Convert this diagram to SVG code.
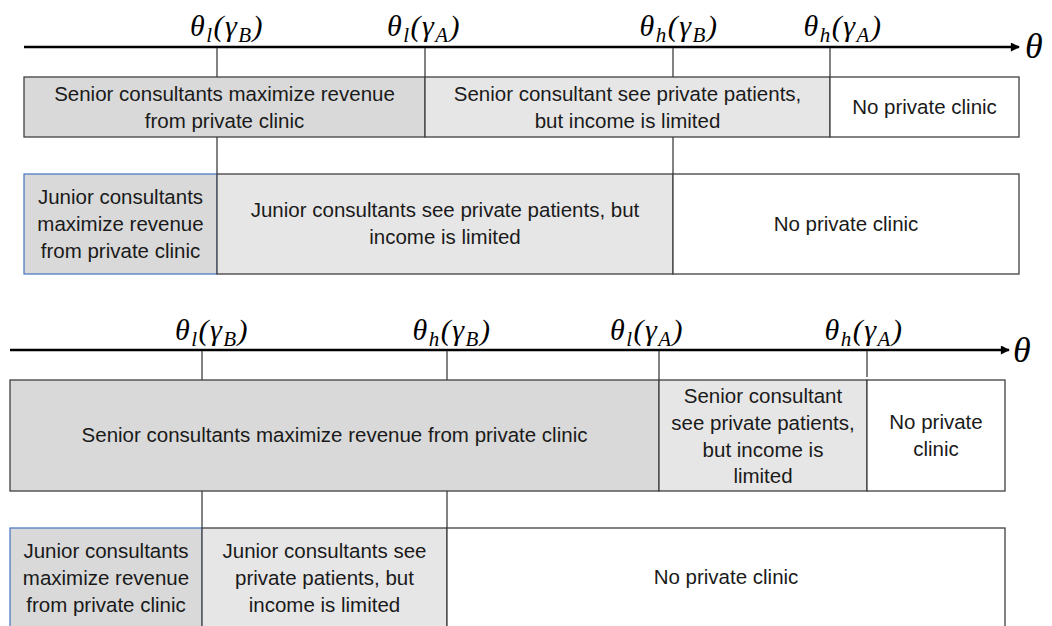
<svg xmlns="http://www.w3.org/2000/svg" width="1052" height="626" viewBox="0 0 1052 626">
<style>
.bg{fill:#ffffff}
.dark{fill:#d9d9d9;stroke:#404040;stroke-width:1.3}
.light{fill:#e7e6e6;stroke:#404040;stroke-width:1.3}
.white{fill:#ffffff;stroke:#404040;stroke-width:1.3}
.blue{fill:#d9d9d9;stroke:#4472c4;stroke-width:1.2}
.t{font-family:"Liberation Sans",Arial,sans-serif;font-size:20.5px;fill:#1a1a1a;text-anchor:middle}
.m{font-family:"Liberation Serif","Times New Roman",serif;font-style:italic;font-size:30px;fill:#000;text-anchor:middle;letter-spacing:1.5px}
.s{font-size:21px}
.axis{stroke:#000;stroke-width:2.5;fill:none}
.tick{stroke:#404040;stroke-width:1.3;fill:none}
.big{font-family:"Liberation Serif","Times New Roman",serif;font-style:italic;font-size:36px;fill:#000}
</style>
<defs>
<marker id="arr" viewBox="0 0 10 10" refX="9" refY="5" markerWidth="4" markerHeight="3.6" orient="auto" markerUnits="strokeWidth">
<path d="M0,0 L10,5 L0,10 z" fill="#000"/>
</marker>
</defs>
<rect class="bg" x="0" y="0" width="1052" height="626"/>

<!-- Top diagram -->
<g id="axis-top">
<line class="axis" x1="24" y1="47" x2="1019" y2="47" marker-end="url(#arr)"/>
<text class="big" x="1025" y="58">θ</text>
</g>
<g id="labels-top">
<text class="m" x="227" y="36">θ<tspan class="s" dy="6">l</tspan><tspan dy="-6">(γ</tspan><tspan class="s" dy="6">B</tspan><tspan dy="-6">)</tspan></text>
<text class="m" x="424" y="36">θ<tspan class="s" dy="6">l</tspan><tspan dy="-6">(γ</tspan><tspan class="s" dy="6">A</tspan><tspan dy="-6">)</tspan></text>
<text class="m" x="679" y="36">θ<tspan class="s" dy="6">h</tspan><tspan dy="-6">(γ</tspan><tspan class="s" dy="6">B</tspan><tspan dy="-6">)</tspan></text>
<text class="m" x="843" y="36">θ<tspan class="s" dy="6">h</tspan><tspan dy="-6">(γ</tspan><tspan class="s" dy="6">A</tspan><tspan dy="-6">)</tspan></text>
</g>
<g id="connectors-top">
<line class="tick" x1="217" y1="48" x2="217" y2="77"/>
<line class="tick" x1="425" y1="48" x2="425" y2="77"/>
<line class="tick" x1="673" y1="48" x2="673" y2="77"/>
<line class="tick" x1="830" y1="48" x2="830" y2="77"/>
<line class="tick" x1="217" y1="137" x2="217" y2="174"/>
<line class="tick" x1="673" y1="137" x2="673" y2="174"/>
</g>
<g id="top-senior-max">
<rect class="dark" x="24" y="77" width="401" height="60"/>
<text class="t" x="224.5" y="101">Senior consultants maximize revenue</text>
<text class="t" x="224.5" y="128">from private clinic</text>
</g>
<g id="top-senior-limited">
<rect class="light" x="425" y="77" width="405" height="60"/>
<text class="t" x="627.5" y="101">Senior consultant see private patients,</text>
<text class="t" x="627.5" y="128">but income is limited</text>
</g>
<g id="top-senior-none">
<rect class="white" x="830" y="77" width="189" height="60"/>
<text class="t" x="924.5" y="114">No private clinic</text>
</g>
<g id="top-junior-max">
<rect class="blue" x="24" y="174" width="193" height="100"/>
<text class="t" x="120.5" y="204">Junior consultants</text>
<text class="t" x="120.5" y="231">maximize revenue</text>
<text class="t" x="120.5" y="258">from private clinic</text>
</g>
<g id="top-junior-limited">
<rect class="light" x="217" y="174" width="456" height="100"/>
<text class="t" x="445" y="217">Junior consultants see private patients, but</text>
<text class="t" x="445" y="244">income is limited</text>
</g>
<g id="top-junior-none">
<rect class="white" x="673" y="174" width="346" height="100"/>
<text class="t" x="846" y="231">No private clinic</text>
</g>

<!-- Bottom diagram -->
<g id="axis-bottom">
<line class="axis" x1="10" y1="350" x2="1009" y2="350" marker-end="url(#arr)"/>
<text class="big" x="1013" y="362">θ</text>
</g>
<g id="labels-bottom">
<text class="m" x="212" y="340">θ<tspan class="s" dy="6">l</tspan><tspan dy="-6">(γ</tspan><tspan class="s" dy="6">B</tspan><tspan dy="-6">)</tspan></text>
<text class="m" x="452" y="340">θ<tspan class="s" dy="6">h</tspan><tspan dy="-6">(γ</tspan><tspan class="s" dy="6">B</tspan><tspan dy="-6">)</tspan></text>
<text class="m" x="647" y="340">θ<tspan class="s" dy="6">l</tspan><tspan dy="-6">(γ</tspan><tspan class="s" dy="6">A</tspan><tspan dy="-6">)</tspan></text>
<text class="m" x="864" y="340">θ<tspan class="s" dy="6">h</tspan><tspan dy="-6">(γ</tspan><tspan class="s" dy="6">A</tspan><tspan dy="-6">)</tspan></text>
</g>
<g id="connectors-bottom">
<line class="tick" x1="202" y1="351" x2="202" y2="380"/>
<line class="tick" x1="447" y1="351" x2="447" y2="380"/>
<line class="tick" x1="659" y1="351" x2="659" y2="380"/>
<line class="tick" x1="867" y1="351" x2="867" y2="377"/>
<line class="tick" x1="202" y1="491" x2="202" y2="528"/>
<line class="tick" x1="447" y1="491" x2="447" y2="528"/>
</g>
<g id="bottom-senior-max">
<rect class="dark" x="10" y="380" width="649" height="111"/>
<text class="t" x="334.5" y="442">Senior consultants maximize revenue from private clinic</text>
</g>
<g id="bottom-senior-limited">
<rect class="light" x="659" y="380" width="208" height="111"/>
<text class="t" x="763" y="403">Senior consultant</text>
<text class="t" x="763" y="430">see private patients,</text>
<text class="t" x="763" y="456.5">but income is</text>
<text class="t" x="763" y="483">limited</text>
</g>
<g id="bottom-senior-none">
<rect class="white" x="867" y="380" width="138" height="111"/>
<text class="t" x="936" y="429">No private</text>
<text class="t" x="936" y="456">clinic</text>
</g>
<g id="bottom-junior-max">
<rect class="blue" x="10" y="528" width="192" height="110"/>
<text class="t" x="106" y="558">Junior consultants</text>
<text class="t" x="106" y="585">maximize revenue</text>
<text class="t" x="106" y="612">from private clinic</text>
</g>
<g id="bottom-junior-limited">
<rect class="light" x="202" y="528" width="245" height="110"/>
<text class="t" x="324.5" y="558">Junior consultants see</text>
<text class="t" x="324.5" y="585">private patients, but</text>
<text class="t" x="324.5" y="612">income is limited</text>
</g>
<g id="bottom-junior-none">
<rect class="white" x="447" y="528" width="558" height="110"/>
<text class="t" x="726" y="584">No private clinic</text>
</g>
</svg>
